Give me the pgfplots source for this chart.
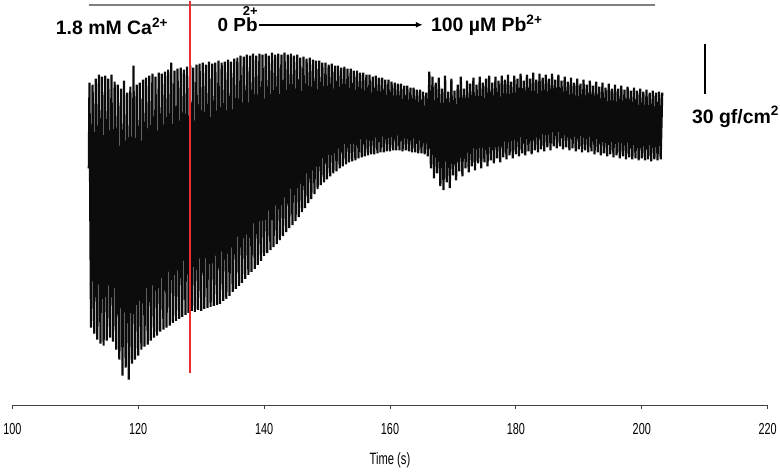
\documentclass[border=0pt]{standalone}
\usepackage{fontspec}
\setmainfont{Liberation Sans}
\newfontfamily\narrowfont[FakeStretch=0.68]{Liberation Sans}
\usepackage{pgfplots}
\pgfplotsset{compat=1.18}
\usetikzlibrary{arrows.meta}
\definecolor{trace}{RGB}{12,12,12}
\definecolor{redline}{RGB}{238,45,50}
\begin{document}
\begin{tikzpicture}
\begin{axis}[
 scale only axis, width=758bp, height=405.5bp,
 xmin=100, xmax=220, ymin=62.5, ymax=468,
 axis y line=none, axis x line*=bottom,
 xtick={100,120,140,160,180,200,220},
 xticklabels={100,120,140,160,180,200,220},
 xtick align=outside, major tick length=4bp,
 x axis line style={draw=black!75, line width=0.9bp},
 xtick style={draw=black!75, line width=0.9bp},
 xticklabel style={font=\narrowfont\fontsize{16bp}{16bp}\selectfont, yshift=-11bp},
 xlabel={Time (s)},
 xlabel style={font=\narrowfont\fontsize{16.5bp}{16.5bp}\selectfont, yshift=-11bp},
 clip=false,
]
\path (axis cs:98.417,0) rectangle (axis cs:221.9,468);
\draw[gray, line width=1.4bp] (axis cs:112.2,464) -- (axis cs:202.1,464);
\addplot[trace, line width=2.2bp, line join=bevel] coordinates {
(112.15,300)(112.25,386)(112.5,140)(112.75,384)(113,134)(113.25,390)(113.5,128)(113.75,394)(114,124)(114.25,392)(114.5,122)(114.75,393)(115,127)(115.25,390)(115.5,130)(115.75,394)(116,126)(116.25,387)(116.5,118)(116.75,384)(117,108)(117.25,380)(117.5,92)(117.75,388)(118,100)(118.25,376)(118.5,88)(118.75,382)(119,104)(119.25,403)(119.5,108)(119.75,384)(120,112)(120.25,386)(120.5,118)(120.75,389)(121,121)(121.25,391)(121.5,123)(121.75,393)(122,127)(122.25,395)(122.5,130)(122.75,392)(123,132)(123.25,396)(123.5,136)(123.75,395)(124,138)(124.25,397)(124.5,140)(124.75,399)(125,142)(125.25,406)(125.5,145)(125.75,398)(126,147)(126.25,400)(126.5,149)(126.75,401)(127,151)(127.25,399)(127.5,153)(127.75,402)(128,155)(128.25,403)(128.5,157)(128.75,401)(129,156)(129.25,404)(129.5,158)(129.75,405)(130,157)(130.25,406)(130.5,159)(130.75,404)(131,160)(131.25,407)(131.5,161)(131.75,405)(132,162)(132.25,406)(132.5,163)(132.75,408)(133,164)(133.25,406)(133.5,167)(133.75,407)(134,169)(134.25,409)(134.5,172)(134.75,407)(135,176)(135.25,410)(135.5,179)(135.75,411)(136,182)(136.25,413)(136.5,185)(136.75,412)(137,189)(137.25,414)(137.5,193)(137.75,413)(138,196)(138.25,415)(138.5,199)(138.75,413)(139,203)(139.25,415)(139.5,207)(139.75,414)(140,212)(140.25,415)(140.5,215)(140.75,413)(141,218)(141.25,416)(141.5,221)(141.75,414)(142,224)(142.25,415)(142.5,228)(142.75,414)(143,232)(143.25,416)(143.5,236)(143.75,414)(144,240)(144.25,415)(144.5,243)(144.75,413)(145,247)(145.25,414)(145.5,251)(145.75,411)(146,256)(146.25,412)(146.5,260)(146.75,410)(147,265)(147.25,411)(147.5,269)(147.75,409)(148,274)(148.25,408)(148.5,279)(148.75,408)(149,283)(149.25,406)(149.5,286)(149.75,406)(150,289)(150.25,404)(150.5,292)(150.75,405)(151,295)(151.25,403)(151.5,297)(151.75,403)(152,300)(152.25,401)(152.5,302)(152.75,402)(153,304)(153.25,400)(153.5,306)(153.75,400)(154,307)(154.25,398)(154.5,308)(154.75,398)(155,310)(155.25,396)(155.5,311)(155.75,396)(156,312)(156.25,394)(156.5,313)(156.75,394)(157,314)(157.25,392)(157.5,314)(157.75,393)(158,315)(158.25,391)(158.5,316)(158.75,391)(159,316)(159.25,389)(159.5,317)(159.75,389)(160,317)(160.25,387)(160.5,318)(160.75,386)(161,318)(161.25,385)(161.5,318)(161.75,385)(162,317)(162.25,383)(162.5,318)(162.75,383)(163,317)(163.25,381)(163.5,316)(163.75,381)(164,316)(164.25,379)(164.5,315)(164.75,379)(165,315)(165.25,377)(165.5,314)(165.75,376)(166,312)(166.25,397)(166.5,300)(166.75,392)(167,290)(167.25,386)(167.5,295)(167.75,391)(168,282)(168.25,380)(168.5,278)(168.75,393)(169,286)(169.25,377)(169.5,280)(169.75,390)(170,293)(170.25,378)(170.5,288)(170.75,384)(171,297)(171.25,392)(171.5,292)(171.75,380)(172,300)(172.25,388)(172.5,296)(172.75,385)(173,302)(173.25,391)(173.5,298)(173.75,384)(174,305)(174.25,392)(174.5,300)(174.75,386)(175,306)(175.25,390)(175.5,302)(175.75,393)(176,308)(176.25,386)(176.5,305)(176.75,392)(177,310)(177.25,388)(177.5,306)(177.75,393)(178,311)(178.25,389)(178.5,309)(178.75,394)(179,313)(179.25,387)(179.5,310)(179.75,393)(180,314)(180.25,390)(180.5,312)(180.75,395)(181,315)(181.25,388)(181.5,313)(181.75,394)(182,317)(182.25,390)(182.5,314)(182.75,396)(183,318)(183.25,389)(183.5,316)(183.75,395)(184,319)(184.25,391)(184.5,317)(184.75,394)(185,321)(185.25,390)(185.5,318)(185.75,395)(186,322)(186.25,389)(186.5,320)(186.75,394)(187,322)(187.25,388)(187.5,319)(187.75,392)(188,321)(188.25,387)(188.5,318)(188.75,391)(189,320)(189.25,386)(189.5,317)(189.75,390)(190,319)(190.25,385)(190.5,316)(190.75,389)(191,318)(191.25,384)(191.5,316)(191.75,388)(192,317)(192.25,383)(192.5,314)(192.75,387)(193,316)(193.25,382)(193.5,313)(193.75,386)(194,315)(194.25,381)(194.5,312)(194.75,385)(195,314)(195.25,380)(195.5,311)(195.75,384)(196,313)(196.25,380)(196.5,310)(196.75,383)(197,312)(197.25,379)(197.5,309)(197.75,382)(198,311)(198.25,378)(198.5,309)(198.75,381)(199,310)(199.25,378)(199.5,308)(199.75,380)(200,310)(200.25,377)(200.5,308)(200.75,379)(201,309)(201.25,376)(201.5,307)(201.75,378)(202,309)(202.25,376)(202.5,308)(202.75,377)(203,309)(203.25,376)
};
\draw[redline, line width=1.8bp] (axis cs:128.18,468) -- (axis cs:128.18,95);
\node[anchor=base, font=\bfseries\fontsize{19.5bp}{20bp}\selectfont, inner sep=0pt] at (axis cs:115.83,434) {1.8 mM Ca\textsuperscript{2+}};
\node[anchor=base east, font=\bfseries\fontsize{19bp}{20bp}\selectfont, inner sep=0pt] at (axis cs:139.0,437) {0 Pb};
\node[anchor=base east, font=\bfseries\fontsize{13bp}{13bp}\selectfont, inner sep=0pt] at (axis cs:139.0,453.5) {2+};
\draw[-{Latex[length=7bp,width=6bp]}, line width=2bp] (axis cs:139.26,444) -- (axis cs:165.22,444);
\node[anchor=base west, font=\bfseries\fontsize{19.5bp}{20bp}\selectfont, inner sep=0pt] at (axis cs:166.49,437) {100 µM Pb\textsuperscript{2+}};
\draw[line width=2bp] (axis cs:210.02,425) -- (axis cs:210.02,375);
\node[anchor=base west, font=\bfseries\fontsize{19.5bp}{20bp}\selectfont, inner sep=0pt] at (axis cs:207.96,345) {30 gf/cm\textsuperscript{2}};
\end{axis}
\end{tikzpicture}
\end{document}
